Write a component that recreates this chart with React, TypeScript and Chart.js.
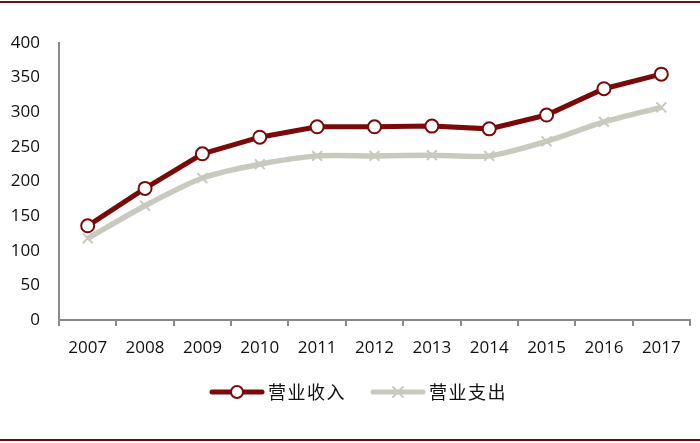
import React, { useEffect, useRef } from "react";
import { Chart, registerables } from "chart.js";

Chart.register(...registerables);

const years = ["2007", "2008", "2009", "2010", "2011", "2012", "2013", "2014", "2015", "2016", "2017"];
const revenue = [136, 190, 240, 264, 279, 279, 280, 276, 296, 334, 355];
const expense = [118, 165, 205, 225, 237, 237, 238, 237, 258, 286, 307];
const seriesNames = ["营业收入", "营业支出"];
const yTicks = [0, 50, 100, 150, 200, 250, 300, 350, 400];

const RED = "#7a0a0a";
const GRAY = "#c9c9bf";

const legendPlugin = {
  id: "customLegend",
  afterDraw(chart: any) {
    const ctx = chart.ctx;
    const y = 392;
    const items = [
      { x: 210, name: seriesNames[0], color: RED, marker: "circle" },
      { x: 371, name: seriesNames[1], color: GRAY, marker: "cross" },
    ];
    ctx.save();
    for (const it of items) {
      ctx.strokeStyle = it.color;
      ctx.lineWidth = 5;
      ctx.lineCap = "round";
      ctx.beginPath();
      ctx.moveTo(it.x + 2, y);
      ctx.lineTo(it.x + 52, y);
      ctx.stroke();
      const cx = it.x + 27;
      if (it.marker === "circle") {
        ctx.beginPath();
        ctx.arc(cx, y, 6, 0, Math.PI * 2);
        ctx.fillStyle = "#fff";
        ctx.fill();
        ctx.lineWidth = 2;
        ctx.strokeStyle = it.color;
        ctx.stroke();
      } else {
        ctx.lineWidth = 2;
        ctx.beginPath();
        ctx.moveTo(cx - 5, y - 5);
        ctx.lineTo(cx + 5, y + 5);
        ctx.moveTo(cx + 5, y - 5);
        ctx.lineTo(cx - 5, y + 5);
        ctx.stroke();
      }
      ctx.fillStyle = "#111";
      ctx.font = '18px "Noto Sans CJK SC"';
      ctx.textBaseline = "middle";
      ctx.textAlign = "left";
      let tx = it.x + 58;
      for (const ch of it.name) {
        ctx.fillText(ch, tx, y);
        tx += 19.5;
      }
    }
    ctx.restore();
  },
};

export default function App() {
  const ref = useRef<HTMLCanvasElement | null>(null);
  useEffect(() => {
    document.body.style.margin = "0";
    const chart = new Chart(ref.current!, {
      type: "line",
      data: {
        labels: years,
        datasets: [
          {
            label: seriesNames[1],
            data: expense,
            borderColor: GRAY,
            backgroundColor: GRAY,
            borderWidth: 5.5,
            tension: 0.25,
            pointStyle: "crossRot",
            pointRadius: 7,
            pointBorderWidth: 2,
            pointBorderColor: GRAY,
            order: 2,
          },
          {
            label: seriesNames[0],
            data: revenue,
            borderColor: RED,
            backgroundColor: "#fff",
            borderWidth: 5,
            tension: 0,
            pointStyle: "circle",
            pointRadius: 6.5,
            pointBorderWidth: 2,
            pointBackgroundColor: "#fff",
            pointBorderColor: RED,
            order: 1,
          },
        ],
      },
      options: {
        animation: false,
        responsive: false,
        maintainAspectRatio: false,
        layout: { padding: { left: 0, right: 10, top: 43, bottom: 73 } },
        plugins: { legend: { display: false }, tooltip: { enabled: false } },
        scales: {
          x: {
            offset: true,
            grid: {
              offset: true,
              drawOnChartArea: false,
              drawTicks: true,
              tickLength: 6,
              color: "#8a8a8a",
              lineWidth: 2,
            },
            border: { color: "#8a8a8a", width: 2 },
            ticks: {
              color: "#111",
              font: { family: '"Open Sans"', size: 17 },
              padding: 12,
              maxRotation: 0,
            },
            afterFit: (s: any) => {
              s.height = 50;
            },
          },
          y: {
            min: 0,
            max: 400,
            afterBuildTicks: (s: any) => {
              s.ticks = yTicks.map((v) => ({ value: v }));
            },
            grid: { display: false, drawTicks: false },
            border: { color: "#8a8a8a", width: 2 },
            ticks: {
              color: "#111",
              font: { family: '"Open Sans"', size: 17 },
              padding: 19,
            },
            afterFit: (s: any) => {
              s.width = 59;
            },
          },
        },
      },
      plugins: [legendPlugin],
    });
    return () => chart.destroy();
  }, []);
  return (
    <div style={{ position: "relative", width: 700, height: 443, background: "#fff" }}>
      <canvas ref={ref} width={700} height={443} style={{ position: "absolute", left: 0, top: 0 }} />
      <div style={{ position: "absolute", left: 0, top: 1, width: 700, height: 2, background: "#6e0f0f" }} />
      <div style={{ position: "absolute", left: 0, top: 439, width: 700, height: 2, background: "#6e0f0f" }} />
    </div>
  );
}
